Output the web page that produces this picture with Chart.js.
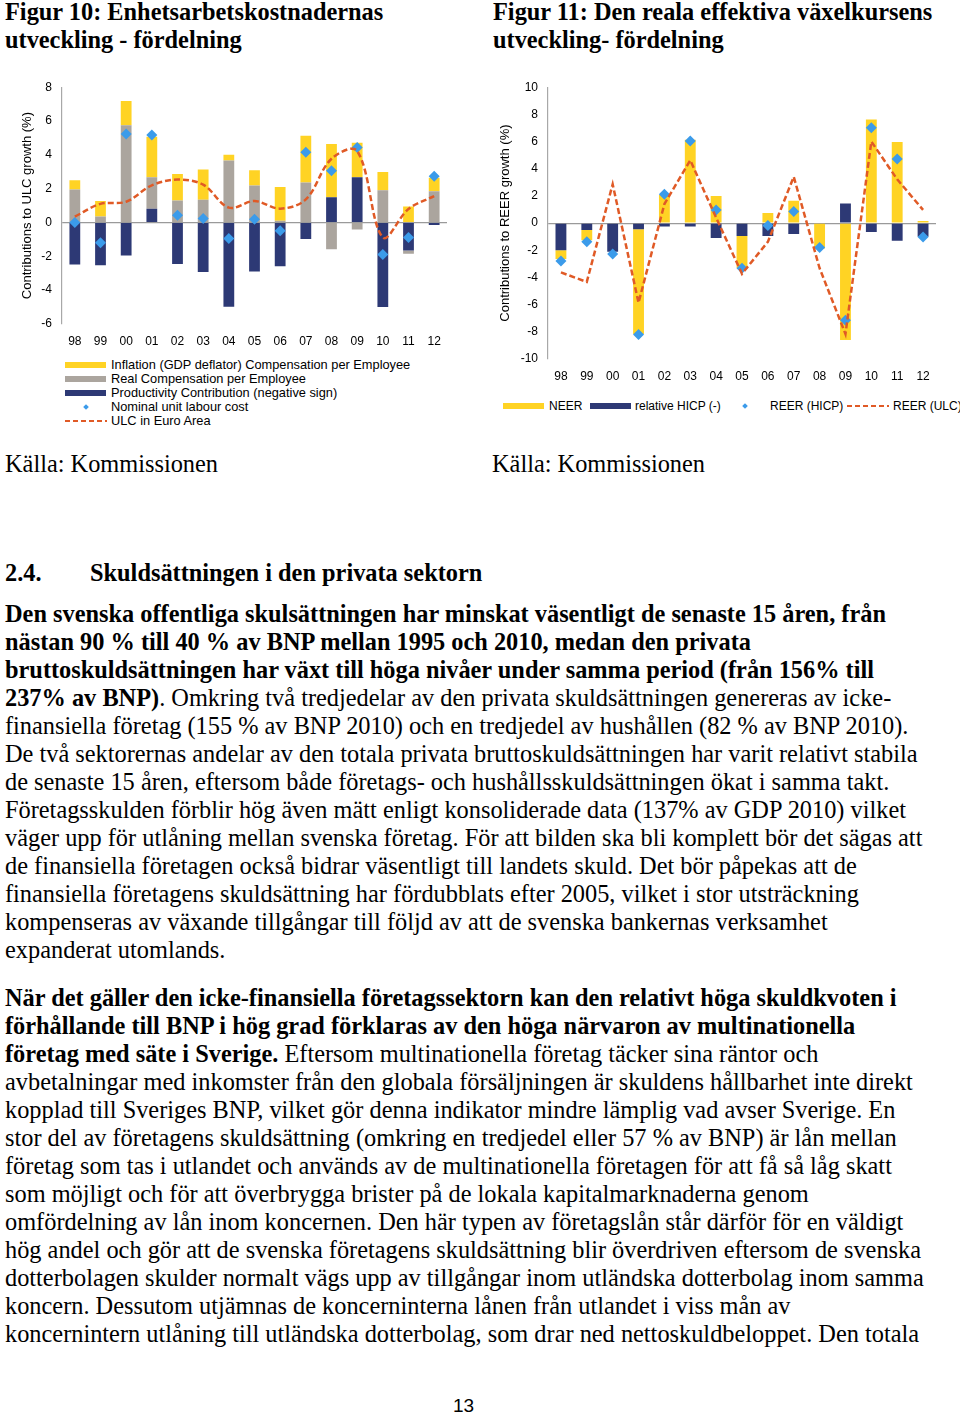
<!DOCTYPE html>
<html>
<head>
<meta charset="utf-8">
<script src="https://cdn.jsdelivr.net/npm/chart.js"></script>
<style>
body { margin: 0; background: #fff; }
#page { position: relative; width: 960px; height: 1417px; overflow: hidden; background: #fff;
  font-family: "Liberation Serif", "Times New Roman", serif; color: #000; }
.t { position: absolute; white-space: nowrap; font-size: 24.35px; line-height: 28px; }
.b { font-weight: bold; }
.box { position: absolute; }
.lg { position: absolute; white-space: nowrap; font-family: "Liberation Sans", Arial, sans-serif;
  font-size: 12px; line-height: 14px; color: #000; }
.lg1 { font-size: 12.8px; }
.sw { position: absolute; height: 6px; width: 41px; }
.dia { position: absolute; width: 4px; height: 4px; background: #3b9bea; transform: rotate(45deg); }
</style>
</head>
<body>
<div id="page">
  <div class="t b" style="left:5px; top:-2px;">Figur 10: Enhetsarbetskostnadernas<br>utveckling - fördelning</div>
  <div class="t b" style="left:493px; top:-2px;">Figur 11: Den reala effektiva växelkursens<br>utveckling- fördelning</div>

  <div class="box" style="left:0; top:70px;"><canvas id="ulcChart" width="470" height="280"></canvas></div>
  <div class="box" style="left:490px; top:70px;"><canvas id="reerChart" width="470" height="320"></canvas></div>

  <!-- legend figur 10 -->
  <div class="sw" style="left:65px; top:362px; background:#ffd324;"></div>
  <div class="lg lg1" style="left:111px; top:358px;">Inflation (GDP deflator) Compensation per Employee</div>
  <div class="sw" style="left:65px; top:376px; background:#aba59e;"></div>
  <div class="lg lg1" style="left:111px; top:372px;">Real Compensation per Employee</div>
  <div class="sw" style="left:65px; top:390px; background:#2d3975;"></div>
  <div class="lg lg1" style="left:111px; top:386px;">Productivity Contribution (negative sign)</div>
  <div class="dia" style="left:84px; top:405px;"></div>
  <div class="lg lg1" style="left:111px; top:400px;">Nominal unit labour cost</div>
  <svg class="box" style="left:65px; top:418px;" width="42" height="6"><line x1="0" y1="3" x2="42" y2="3" stroke="#e05a26" stroke-width="2" stroke-dasharray="5,3"/></svg>
  <div class="lg lg1" style="left:111px; top:414px;">ULC in Euro Area</div>

  <!-- legend figur 11 -->
  <div class="sw" style="left:503px; top:403px; background:#ffd324;"></div>
  <div class="lg" style="left:549px; top:399px;">NEER</div>
  <div class="sw" style="left:590px; top:403px; background:#2d3975;"></div>
  <div class="lg" style="left:635px; top:399px;">relative HICP (-)</div>
  <div class="dia" style="left:743px; top:404px;"></div>
  <div class="lg" style="left:770px; top:399px;">REER (HICP)</div>
  <svg class="box" style="left:847px; top:403px;" width="42" height="6"><line x1="0" y1="3" x2="42" y2="3" stroke="#e05a26" stroke-width="2" stroke-dasharray="5,3"/></svg>
  <div class="lg" style="left:893px; top:399px;">REER (ULC)</div>

  <div class="t" style="left:5px; top:450px;">Källa: Kommissionen</div>
  <div class="t" style="left:492px; top:450px;">Källa: Kommissionen</div>

  <div class="t b" style="left:5px; top:559px;">2.4.</div>
  <div class="t b" style="left:90px; top:559px;">Skuldsättningen i den privata sektorn</div>

  <div class="t" style="left:5px; top:600px;"><span class="b">Den svenska offentliga skulsättningen har minskat väsentligt de senaste 15 åren, från<br>nästan 90 % till 40 % av BNP mellan 1995 och 2010, medan den privata<br>bruttoskuldsättningen har växt till höga nivåer under samma period (från 156% till<br>237% av BNP)</span>. Omkring två tredjedelar av den privata skuldsättningen genereras av icke-<br>finansiella företag (155 % av BNP 2010) och en tredjedel av hushållen (82 % av BNP 2010).<br>De två sektorernas andelar av den totala privata bruttoskuldsättningen har varit relativt stabila<br>de senaste 15 åren, eftersom både företags- och hushållsskuldsättningen ökat i samma takt.<br>Företagsskulden förblir hög även mätt enligt konsoliderade data (137% av GDP 2010) vilket<br>väger upp för utlåning mellan svenska företag. För att bilden ska bli komplett bör det sägas att<br>de finansiella företagen också bidrar väsentligt till landets skuld. Det bör påpekas att de<br>finansiella företagens skuldsättning har fördubblats efter 2005, vilket i stor utsträckning<br>kompenseras av växande tillgångar till följd av att de svenska bankernas verksamhet<br>expanderat utomlands.</div>

  <div class="t" style="left:5px; top:984px;"><span class="b">När det gäller den icke-finansiella företagssektorn kan den relativt höga skuldkvoten i<br>förhållande till BNP i hög grad förklaras av den höga närvaron av multinationella<br>företag med säte i Sverige.</span> Eftersom multinationella företag täcker sina räntor och<br>avbetalningar med inkomster från den globala försäljningen är skuldens hållbarhet inte direkt<br>kopplad till Sveriges BNP, vilket gör denna indikator mindre lämplig vad avser Sverige. En<br>stor del av företagens skuldsättning (omkring en tredjedel eller 57 % av BNP) är lån mellan<br>företag som tas i utlandet och används av de multinationella företagen för att få så låg skatt<br>som möjligt och för att överbrygga brister på de lokala kapitalmarknaderna genom<br>omfördelning av lån inom koncernen. Den här typen av företagslån står därför för en väldigt<br>hög andel och gör att de svenska företagens skuldsättning blir överdriven eftersom de svenska<br>dotterbolagen skulder normalt vägs upp av tillgångar inom utländska dotterbolag inom samma<br>koncern. Dessutom utjämnas de koncerninterna lånen från utlandet i viss mån av<br>koncernintern utlåning till utländska dotterbolag, som drar ned nettoskuldbeloppet. Den totala</div>

  <div class="t" style="left:453px; top:1392px; font-family:'Liberation Sans', Arial, sans-serif; font-size:19px;">13</div>
</div>

<script>
// år (kategorier)
const years = ['98', '99', '00', '01', '02', '03', '04', '05', '06', '07', '08', '09', '10', '11', '12'];

// Figur 10 - bidrag till ULC-tillväxt (%)
const inflation = [0.55, 0.92, 1.43, 2.4, 1.57, 1.79, 0.33, 0.9, 2.0, 2.77, 3.14, 2.05, 1.08, 0.94, 0.8];
const realComp = [1.95, 0.35, 5.75, 1.85, 1.3, 1.35, 3.67, 2.19, 0.1, 2.36, -1.58, -0.41, 1.91, -0.2, 1.85];
const productivity = [-2.48, -2.52, -1.95, 0.82, -2.45, -2.93, -4.98, -2.89, -2.58, -0.98, 1.5, 2.67, -5.0, -1.65, -0.15];
const nominalUlc = [0.0, -1.2, 5.23, 5.17, 0.43, 0.23, -0.94, 0.2, -0.49, 4.16, 3.06, 4.43, -1.89, -0.88, 2.73];
const ulcEuro = [0.35, 1.1, 1.23, 2.2, 2.54, 2.24, 0.88, 1.27, 0.82, 1.37, 3.77, 4.23, -0.88, 0.8, 1.56];
const ulcTicks = [-6, 8, 2];

// Figur 11 - bidrag till REER-tillväxt (%)
const neer = [-0.65, -0.75, 0, -7.7, 2.06, 6.13, 2.0, -2.35, 0.75, 1.65, -1.86, -8.6, 7.63, 5.96, 0.15];
const relHicp = [-1.99, -0.51, -2.1, -0.46, -0.25, -0.25, -1.1, -0.95, -0.95, -0.8, 0, 1.45, -0.65, -1.3, -1.0];
const reerHicp = [-2.78, -1.38, -2.28, -8.2, 2.13, 6.05, 0.97, -3.32, -0.17, 0.85, -1.79, -7.14, 7.02, 4.72, -1.02];
const reerUlc = [-3.63, -4.33, 2.86, -5.86, 1.4, 4.62, 0.4, -3.73, -1.38, 3.41, -3.32, -8.16, 6.0, 3.22, 0.97];
const reerTicks = [-10, 10, 2];

const YELLOW = '#ffd324', GREY = '#aba59e', NAVY = '#2d3975', BLUE = '#3b9bea', ORANGE = '#e05a26';
const sans = '"Liberation Sans", Arial, sans-serif';

function barSet(label, data, color) {
    return { type: 'bar', label: label, data: data, backgroundColor: color, stack: 'bars', order: 2,
             barPercentage: 0.42, categoryPercentage: 1 };
}

function makeOptions(ticks, yWidth, xHeight, pad, titlePad, tickPad, titleText) {
    return {
        responsive: false,
        animation: false,
        layout: { padding: pad },
        plugins: { legend: { display: false }, tooltip: { enabled: false } },
        scales: {
            x: {
                stacked: true,
                grid: { display: false },
                border: { display: false },
                ticks: { color: '#000', font: { family: sans, size: 12 }, padding: tickPad, maxRotation: 0 },
                afterFit: s => { s.height = xHeight; }
            },
            y: {
                stacked: true,
                min: ticks[0], max: ticks[1],
                ticks: { stepSize: ticks[2], color: '#000', font: { family: sans, size: 12 }, padding: 10 },
                grid: {
                    drawTicks: false,
                    color: c => (c.tick && c.tick.value === 0) ? '#9a9a9a' : 'rgba(0,0,0,0)',
                    lineWidth: 1.2
                },
                border: { display: true, color: '#a8a8a8', width: 1.2 },
                title: { display: true, text: titleText, color: '#000',
                         font: { family: sans, size: 13 }, padding: { top: titlePad, bottom: 0 } },
                afterFit: s => { s.width = yWidth; }
            }
        }
    };
}

new Chart(document.getElementById('ulcChart'), {
    data: {
        labels: years,
        datasets: [
            barSet('Productivity Contribution (negative sign)', productivity, NAVY),
            barSet('Real Compensation per Employee', realComp, GREY),
            barSet('Inflation (GDP deflator) Compensation per Employee', inflation, YELLOW),
            { type: 'line', label: 'Nominal unit labour cost', data: nominalUlc, stack: 'p', order: 1,
              showLine: false, pointStyle: 'rectRot', pointRadius: 5.5, pointBackgroundColor: BLUE, pointBorderWidth: 0 },
            { type: 'line', label: 'ULC in Euro Area', data: ulcEuro, stack: 'l', order: 0,
              borderColor: ORANGE, borderWidth: 2.5, borderDash: [6, 3], tension: 0.35, pointRadius: 0, fill: false }
        ]
    },
    options: makeOptions(ulcTicks, 62, 26, { left: 0, right: 23, top: 14, bottom: 0 }, 20, 2,
                         'Contributions to ULC growth (%)')
});

new Chart(document.getElementById('reerChart'), {
    data: {
        labels: years,
        datasets: [
            barSet('relative HICP (-)', relHicp, NAVY),
            barSet('NEER', neer, YELLOW),
            { type: 'line', label: 'REER (HICP)', data: reerHicp, stack: 'p', order: 1,
              showLine: false, pointStyle: 'rectRot', pointRadius: 5.5, pointBackgroundColor: BLUE, pointBorderWidth: 0 },
            { type: 'line', label: 'REER (ULC)', data: reerUlc, stack: 'l', order: 0,
              borderColor: ORANGE, borderWidth: 2.5, borderDash: [6, 3], tension: 0, pointRadius: 0, fill: false }
        ]
    },
    options: makeOptions(reerTicks, 58, 31, { left: 0, right: 24, top: 13, bottom: 0 }, 8, 2,
                         'Contributions to REER growth (%)')
});
</script>
</body>
</html>
